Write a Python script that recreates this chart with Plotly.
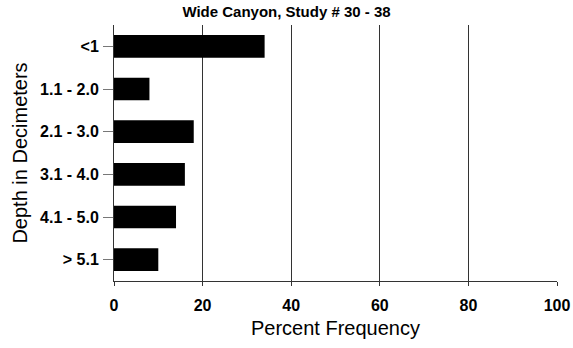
import plotly.graph_objects as go

categories = ["<1", "1.1 - 2.0", "2.1 - 3.0", "3.1 - 4.0", "4.1 - 5.0", "> 5.1"]
percent = [34, 8, 18, 16, 14, 10]
x_ticks = [0, 20, 40, 60, 80, 100]

font = "Arial, Liberation Sans, sans-serif"

fig = go.Figure(go.Bar(
    x=percent, y=categories, orientation="h",
    marker=dict(color="black", line=dict(width=0)),
    width=0.53,
))

fig.update_layout(
    width=573, height=348,
    margin=dict(l=114, r=16, t=25, b=67),
    paper_bgcolor="white", plot_bgcolor="white",
    showlegend=False,
    title=dict(text="<b>Wide Canyon, Study # 30 - 38</b>", x=0.5, xanchor="center",
               y=1 - 12/348, yanchor="middle",
               font=dict(family=font, size=15, color="black")),
    font=dict(family=font, color="black"),
)

fig.update_xaxes(
    range=[0, 100], tickvals=x_ticks, ticktext=[f"<b>{v}</b>" for v in x_ticks],
    showgrid=True, gridcolor="#333333", gridwidth=1,
    showline=True, linecolor="#333333", linewidth=1,
    ticks="outside", ticklen=4, tickcolor="#333333",
    tickfont=dict(family=font, size=16, color="black"),
    ticklabelstandoff=6,
    title=dict(text="Percent Frequency", font=dict(family=font, size=20, color="black"), standoff=7),
    zeroline=False, fixedrange=True, automargin=False,
)
fig.update_yaxes(
    categoryorder="array", categoryarray=categories[::-1],
    range=[-0.5, 5.5],
    showgrid=False,
    showline=True, linecolor="#333333", linewidth=1,
    ticks="outside", ticklen=10, tickcolor="#777777",
    tickfont=dict(family=font, size=16, color="black"),
    ticklabelstandoff=1,
    ticktext=[f"<b>{c}</b>" for c in categories], tickvals=categories,
    title=dict(text="Depth in Decimeters", font=dict(family=font, size=20, color="black"), standoff=7),
    fixedrange=True, automargin=False,
)

fig.write_html("out.html", config={"displayModeBar": False},
               post_script="document.body.style.margin='0';")
